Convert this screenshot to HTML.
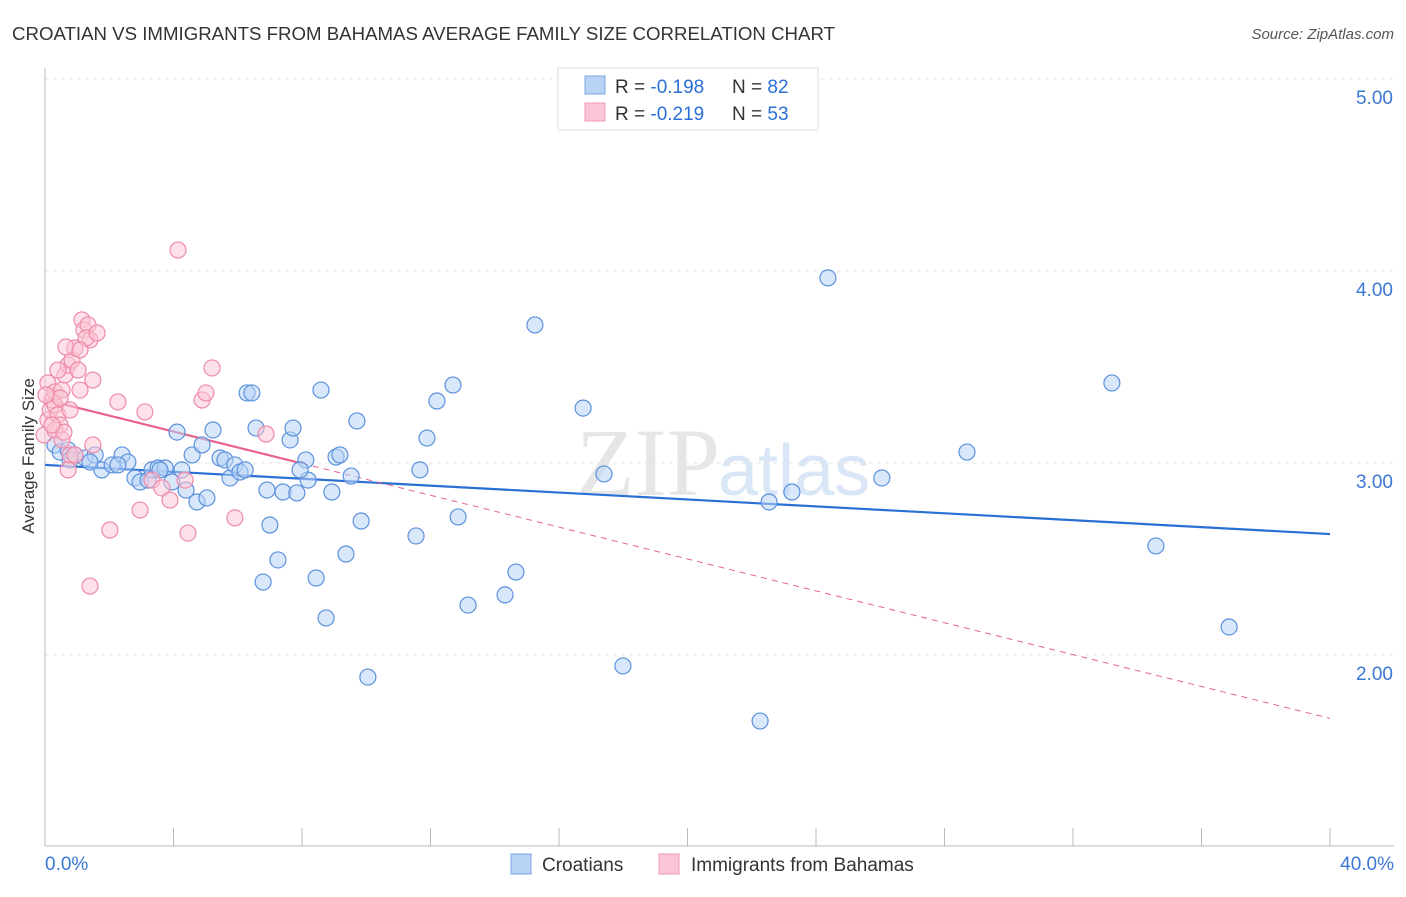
<!DOCTYPE html>
<html><head><meta charset="utf-8"><style>
body{margin:0;background:#fff;font-family:"Liberation Sans",sans-serif}
</style></head><body>
<svg id="chart" width="1406" height="892" xmlns="http://www.w3.org/2000/svg">
<text x="12" y="40" font-size="18" fill="#333" textLength="823" lengthAdjust="spacingAndGlyphs">CROATIAN VS IMMIGRANTS FROM BAHAMAS AVERAGE FAMILY SIZE CORRELATION CHART</text>
<text x="1394" y="39" font-size="15" fill="#555" font-style="italic" text-anchor="end">Source: ZipAtlas.com</text>
<text x="720" y="495" font-size="96" fill="#e6e6e6" font-family="Liberation Serif" text-anchor="end">ZIP</text>
<text x="718" y="495" font-size="72" fill="#d8e6f6">atlas</text>
<g id="grid"></g><g id="axes"></g><g id="trends"></g><g id="pts"></g>
<text x="34" y="456" font-size="17" fill="#333" text-anchor="middle" transform="rotate(-90 34 456)">Average Family Size</text>
<g>
<rect x="558" y="68" width="260" height="62" fill="#fff" stroke="#ddd"/>
<rect x="585" y="76" width="20" height="18" fill="#b8d3f5" stroke="#7aa6e0"/>
<rect x="585" y="103" width="20" height="18" fill="#fcc6d6" stroke="#f09ab4"/>
<text x="615" y="93" font-size="19" fill="#333">R = <tspan fill="#2b6fd6">-0.198</tspan></text>
<text x="732" y="93" font-size="19" fill="#333">N = <tspan fill="#2b6fd6">82</tspan></text>
<text x="615" y="120" font-size="19" fill="#333">R = <tspan fill="#2b6fd6">-0.219</tspan></text>
<text x="732" y="120" font-size="19" fill="#333">N = <tspan fill="#2b6fd6">53</tspan></text>
</g>
<g>
<rect x="511" y="854" width="20" height="20" fill="#b8d3f5" stroke="#7aa6e0"/>
<text x="542" y="871" font-size="19" fill="#333">Croatians</text>
<rect x="659" y="854" width="20" height="20" fill="#fcc6d6" stroke="#f09ab4"/>
<text x="691" y="871" font-size="19" fill="#333">Immigrants from Bahamas</text>
</g>
</svg>
<script>
const xTicks=[0,4,8,12,16,20,24,28,32,36,40];
const yTicks=[2,3,4,5];
const yTickLabels=["2.00","3.00","4.00","5.00"];
const blueTrend=[2.99,2.63];
const pinkTrend=[3.33,1.67];
const pinkSolidEnd=8;
const bluePx=[[55,445],[60,452],[68,450],[75,455],[85,458],[95,455],[102,470],[112,465],[122,455],[128,462],[135,478],[140,482],[148,480],[152,470],[158,468],[165,468],[172,482],[177,432],[182,470],[186,490],[192,455],[197,502],[202,445],[207,498],[213,430],[220,458],[225,460],[230,478],[235,465],[240,472],[247,393],[252,393],[256,428],[267,490],[270,525],[263,582],[278,560],[283,492],[290,440],[293,428],[297,493],[306,460],[308,480],[316,578],[321,390],[326,618],[332,492],[336,457],[346,554],[351,476],[357,421],[361,521],[368,677],[416,536],[420,470],[427,438],[437,401],[453,385],[458,517],[468,605],[505,595],[516,572],[535,325],[583,408],[604,474],[623,666],[760,721],[769,502],[792,492],[828,278],[882,478],[967,452],[1112,383],[1156,546],[1229,627],[70,460],[90,462],[118,465],[160,470],[245,470],[300,470],[340,455]];
const pinkPx=[[44,435],[48,420],[50,410],[52,400],[55,405],[58,415],[60,425],[48,383],[55,392],[62,390],[65,375],[68,365],[72,360],[75,348],[78,370],[80,390],[82,320],[84,330],[88,325],[90,340],[86,338],[97,333],[93,380],[66,347],[80,350],[55,430],[62,440],[68,470],[70,455],[93,445],[110,530],[118,402],[145,412],[140,510],[152,480],[162,488],[170,500],[178,250],[185,480],[188,533],[202,400],[206,393],[212,368],[235,518],[266,434],[90,586],[58,370],[75,455],[64,432],[70,410],[52,425],[60,398],[46,395]];
const blueX=bluePx.map(p=>+((p[0]-45)/1285*40).toFixed(2)), blueY=bluePx.map(p=>+(5-(p[1]-79)/192).toFixed(3));
const pinkX=pinkPx.map(p=>+((p[0]-45)/1285*40).toFixed(2)), pinkY=pinkPx.map(p=>+(5-(p[1]-79)/192).toFixed(3));
const X=v=>45+v/40*1285, Y=v=>79+(5-v)*192;
const NS="http://www.w3.org/2000/svg";
function mk(t,a,parent){const e=document.createElementNS(NS,t);for(const k in a)e.setAttribute(k,a[k]);document.getElementById(parent).appendChild(e);return e;}
yTicks.forEach((t,i)=>{
 const l=mk('line',{x1:45,x2:1394,y1:Y(t),y2:Y(t),stroke:'#e6e6e6','stroke-dasharray':'4,4'},'grid');
 
 
 const tx=mk('text',{x:1393,y:Y(t)+25,'font-size':19,fill:'#3a78d6','text-anchor':'end'},'axes');tx.textContent=yTickLabels[i];
 
 
});
const ax=mk('line',{x1:45,x2:45,y1:68,y2:846,stroke:'#bbb'},'axes');


const bx=mk('line',{x1:45,x2:1394,y1:846,y2:846,stroke:'#bbb'},'axes');


xTicks.forEach(t=>{const l=mk('line',{x1:X(t),x2:X(t),y1:828,y2:846,stroke:'#bbb'},'axes');
 
 });
let t1=mk('text',{x:45,y:870,'font-size':19,fill:'#3a78d6'},'axes');t1.textContent='0.0%';


let t2=mk('text',{x:1394,y:870,'font-size':19,fill:'#3a78d6','text-anchor':'end'},'axes');t2.textContent='40.0%';


function dot(x,y,fill,stroke){const c=mk('circle',{cx:X(x),cy:Y(y),r:8,fill:fill,'fill-opacity':0.55,stroke:stroke,'stroke-width':1.2},'pts');return c;}
blueX.forEach((x,i)=>{const c=dot(x,blueY[i],'#b8d3f5','#5b91dd');
 
 });
pinkX.forEach((x,i)=>{const c=dot(x,pinkY[i],'#fcc6d6','#ee8aa9');
 
 });
const pAt=x=>pinkTrend[0]+(pinkTrend[1]-pinkTrend[0])*x/40;
let l1=mk('line',{x1:X(0),y1:Y(blueTrend[0]),x2:X(40),y2:Y(blueTrend[1]),stroke:'#2a6fd6','stroke-width':2.2},'trends');


let l2=mk('line',{x1:X(0),y1:Y(pinkTrend[0]),x2:X(pinkSolidEnd),y2:Y(pAt(pinkSolidEnd)),stroke:'#e8628c','stroke-width':2.2},'trends');


let l3=mk('line',{x1:X(pinkSolidEnd),y1:Y(pAt(pinkSolidEnd)),x2:X(40),y2:Y(pinkTrend[1]),stroke:'#e8628c','stroke-width':1,'stroke-dasharray':'6,5'},'trends');


</script>
</body></html>
